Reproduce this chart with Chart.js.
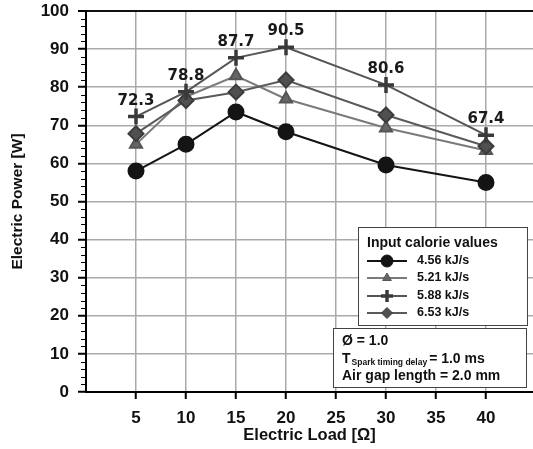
<!DOCTYPE html>
<html>
<head>
<meta charset="utf-8">
<script src="https://cdn.jsdelivr.net/npm/chart.js@4.4.1/dist/chart.umd.min.js"></script>
<style>
  html, body { margin: 0; padding: 0; background: #ffffff; }
  #wrap { width: 533px; height: 449px; }
</style>
</head>
<body>
<div id="wrap"><canvas id="chartCanvas"></canvas></div>
<script>
"use strict";

// Chart data
const loads = [5, 10, 15, 20, 30, 40];
const seriesNames = ["4.56 kJ/s", "5.21 kJ/s", "5.88 kJ/s", "6.53 kJ/s"];
const power456 = [58.0, 65.0, 73.5, 68.3, 59.6, 55.0];
const power521 = [65.0, 77.5, 83.0, 76.9, 69.3, 63.4];
const power588 = [72.3, 78.8, 87.7, 90.5, 80.6, 67.4];
const power653 = [67.8, 76.5, 78.7, 81.9, 72.7, 64.5];
const xTicks = [5, 10, 15, 20, 25, 30, 35, 40];
const yTicks = [0, 10, 20, 30, 40, 50, 60, 70, 80, 90, 100];

const tickFont = {family: "Arial, 'Liberation Sans', sans-serif", size: 17, weight: "bold"};

function toPoints(values) {
    return loads.map((x, i) => ({x: x, y: values[i]}));
}

const datasets = [
    {label: seriesNames[0], data: toPoints(power456), borderColor: "#141414", backgroundColor: "#141414",
     pointBackgroundColor: "#141414", pointBorderColor: "#141414", pointStyle: "circle", pointRadius: 7.5, borderWidth: 2, order: 4},
    {label: seriesNames[1], data: toPoints(power521), borderColor: "#7a7a7a", backgroundColor: "#6a6a6a",
     pointBackgroundColor: "#666666", pointBorderColor: "#555555", pointStyle: "triangle", pointRadius: 7, borderWidth: 2, order: 3},
    {label: seriesNames[2], data: toPoints(power588), borderColor: "#555555", backgroundColor: "#3a3a3a",
     pointBackgroundColor: "#3a3a3a", pointBorderColor: "#3a3a3a", pointStyle: "cross", pointRadius: 8, pointBorderWidth: 3.5, borderWidth: 2, order: 1},
    {label: seriesNames[3], data: toPoints(power653), borderColor: "#5a5a5a", backgroundColor: "#505050",
     pointBackgroundColor: "#505050", pointBorderColor: "#3c3c3c", pointStyle: "rectRot", pointRadius: 7.5, borderWidth: 2, order: 2}
];

// Minor ticks on y axis, labels above 5.88 series, legend and condition box
const decorPlugin = {
    id: "decor",
    afterDatasetsDraw(chart) {
        const c = chart.ctx;
        const yScale = chart.scales.y;
        const area = chart.chartArea;

        // minor ticks every 2 W
        c.save();
        c.strokeStyle = "#000";
        c.lineWidth = 1;
        for (let v = 2; v < 100; v += 2) {
            if (v % 10 === 0) continue;
            const py = Math.round(yScale.getPixelForValue(v)) + 0.5;
            c.beginPath();
            c.moveTo(area.left - 5, py);
            c.lineTo(area.left, py);
            c.stroke();
        }

        // value labels over the 5.88 kJ/s series
        const meta = chart.getDatasetMeta(2);
        c.fillStyle = "#1a1a1a";
        c.font = "bold 15px 'DejaVu Sans', sans-serif";
        c.textAlign = "center";
        c.textBaseline = "alphabetic";
        meta.data.forEach((pt, i) => {
            c.fillText(power588[i].toFixed(1), pt.x, pt.y - 12);
        });

        // legend box
        const lx = 358, ly = 227, lw = 169, lh = 98;
        c.fillStyle = "#fff";
        c.fillRect(lx, ly, lw, lh);
        c.strokeStyle = "#444";
        c.lineWidth = 1;
        c.strokeRect(lx + 0.5, ly + 0.5, lw, lh);
        c.fillStyle = "#111";
        c.textAlign = "left";
        c.textBaseline = "middle";
        c.font = "bold 14px Arial, 'Liberation Sans', sans-serif";
        c.fillText("Input calorie values", lx + 9, ly + 16);
        const rows = [261, 278, 296, 313];
        const sizes = [6, 5, 6, 5.5];
        datasets.forEach((ds, i) => {
            const ry = rows[i];
            c.strokeStyle = ds.borderColor;
            c.lineWidth = 2;
            c.beginPath();
            c.moveTo(lx + 9, ry);
            c.lineTo(lx + 49, ry);
            c.stroke();
            c.fillStyle = ds.pointBackgroundColor;
            c.strokeStyle = ds.pointBorderColor;
            c.lineWidth = ds.pointBorderWidth || 1;
            Chart.helpers.drawPoint(c, {pointStyle: ds.pointStyle, radius: sizes[i], rotation: 0, borderWidth: c.lineWidth}, lx + 29, ry);
            c.fillStyle = "#111";
            c.font = "bold 12.5px Arial, 'Liberation Sans', sans-serif";
            c.fillText(ds.label, lx + 59, ry);
        });

        // condition box
        const bx = 333, by = 328, bw = 193, bh = 59;
        c.fillStyle = "#fff";
        c.fillRect(bx, by, bw, bh);
        c.strokeStyle = "#444";
        c.strokeRect(bx + 0.5, by + 0.5, bw, bh);
        c.fillStyle = "#111";
        c.font = "bold 14px Arial, 'Liberation Sans', sans-serif";
        c.fillText("\u00D8 = 1.0", bx + 9, by + 13);
        let tx = bx + 9;
        c.fillText("T", tx, by + 31);
        tx += c.measureText("T").width + 1;
        c.font = "bold 8.5px Arial, 'Liberation Sans', sans-serif";
        c.fillText("Spark timing delay", tx, by + 35);
        tx += c.measureText("Spark timing delay").width + 2;
        c.font = "bold 14px Arial, 'Liberation Sans', sans-serif";
        c.fillText("= 1.0 ms", tx, by + 31);
        c.fillText("Air gap length = 2.0 mm", bx + 9, by + 48);
        c.restore();
    }
};

const config = {
    type: "line",
    data: {datasets: datasets},
    options: {
        animation: false,
        responsive: true,
        maintainAspectRatio: false,
        layout: {autoPadding: false, padding: {top: 11, right: 0, left: 0, bottom: 0}},
        plugins: {
            legend: {display: false},
            tooltip: {enabled: false}
        },
        scales: {
            x: {
                type: "linear",
                min: 0,
                max: 44.7,
                afterBuildTicks: (scale) => { scale.ticks = xTicks.map(v => ({value: v})); },
                afterFit: (scale) => { scale.height = 57; scale.paddingLeft = 0; scale.paddingRight = 0; },
                ticks: {font: tickFont, color: "#111", padding: 9, maxRotation: 0},
                grid: {color: "#aaaaaa", lineWidth: 1.5, tickColor: "#000", tickLength: 7, tickWidth: 2},
                border: {color: "#000", width: 2},
                title: {display: true, text: "Electric Load [\u03A9]", color: "#111",
                        font: {family: "Arial, 'Liberation Sans', sans-serif", size: 16.5, weight: "bold"}, padding: {top: 0, bottom: 4}}
            },
            y: {
                type: "linear",
                min: 0,
                max: 100,
                afterBuildTicks: (scale) => { scale.ticks = yTicks.map(v => ({value: v})); },
                afterFit: (scale) => { scale.width = 86; scale.paddingTop = 0; scale.paddingBottom = 0; },
                ticks: {font: tickFont, color: "#111", padding: 9},
                grid: {
                    color: (ctx) => (ctx.tick && ctx.tick.value === 100) ? "#111" : "#aaaaaa",
                    lineWidth: (ctx) => (ctx.tick && ctx.tick.value === 100) ? 2 : 1.5,
                    tickColor: "#000", tickLength: 8, tickWidth: 2
                },
                border: {color: "#000", width: 2},
                title: {display: true, text: "Electric Power [W]", color: "#111",
                        font: {family: "Arial, 'Liberation Sans', sans-serif", size: 15.5, weight: "bold"}, padding: {top: 8, bottom: 0}}
            }
        }
    },
    plugins: [decorPlugin]
};

const chart = new Chart(document.getElementById("chartCanvas").getContext("2d"), config);
</script>
</body>
</html>
